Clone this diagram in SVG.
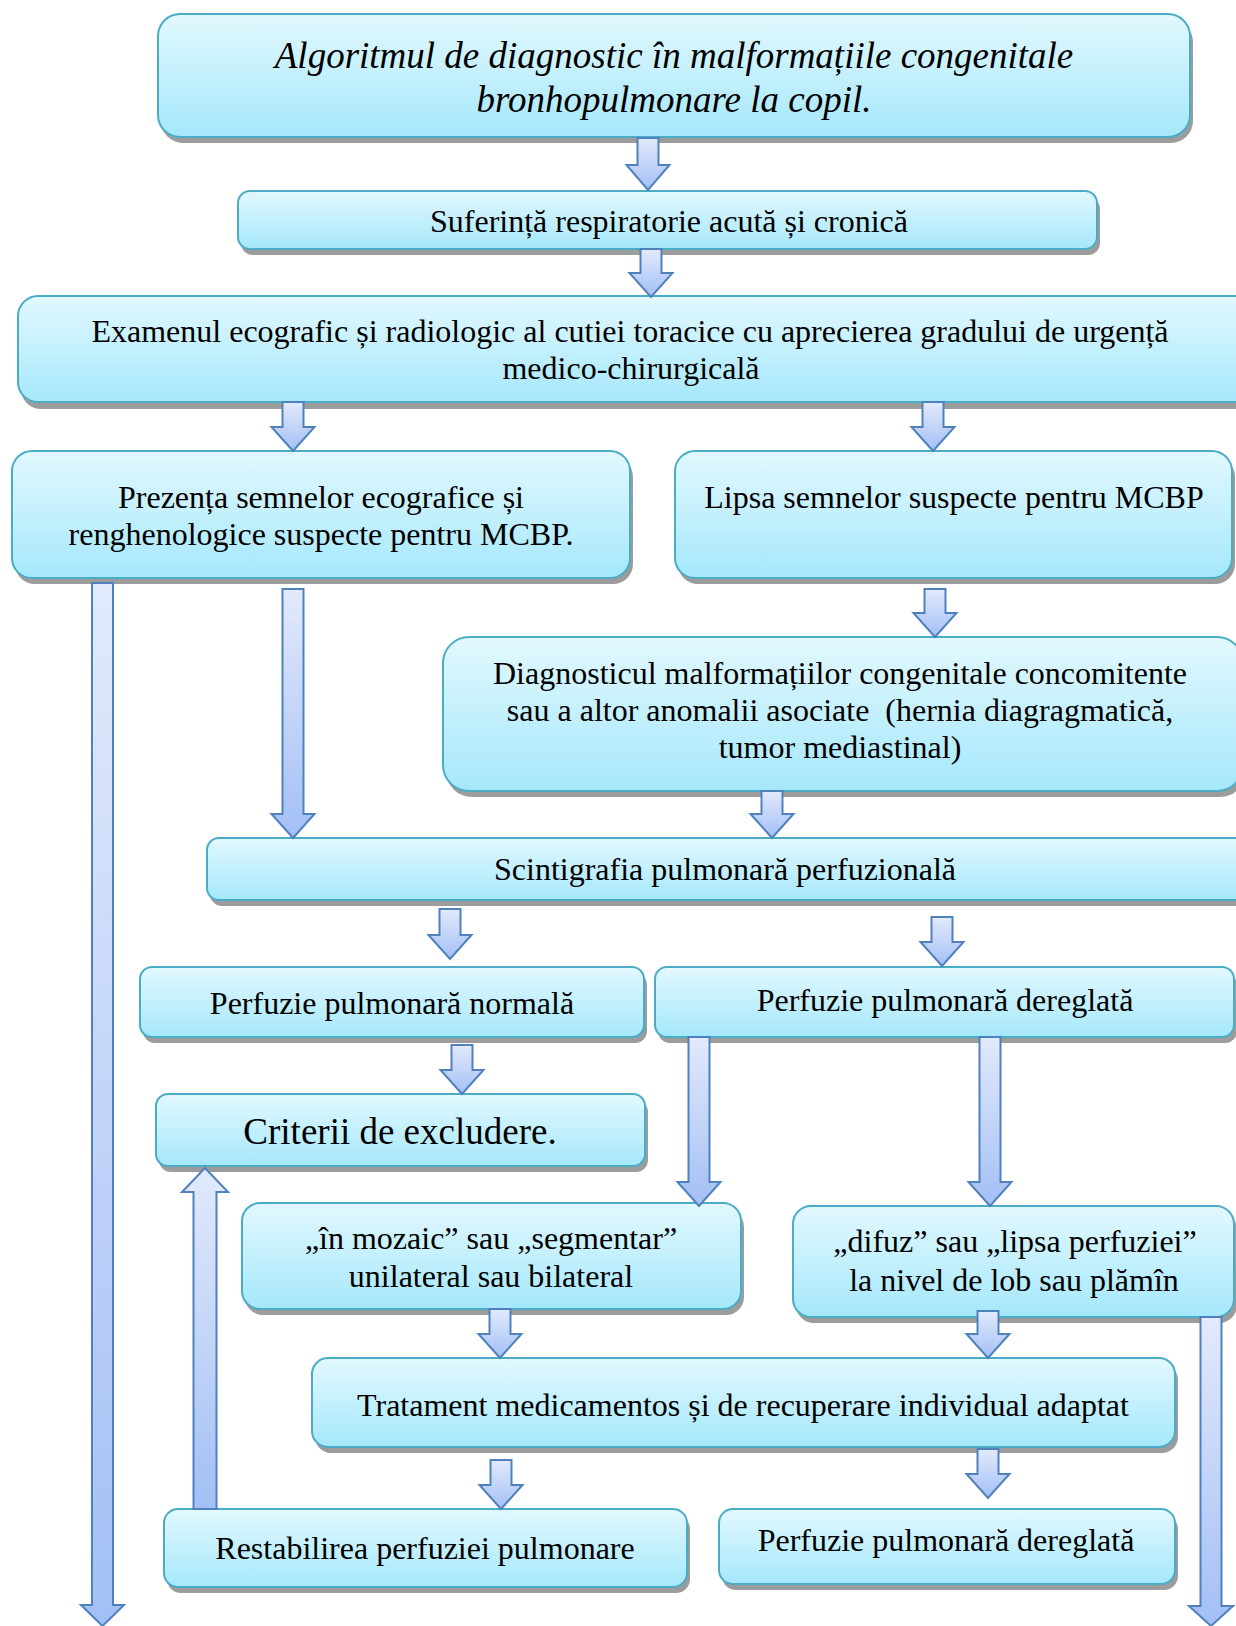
<svg xmlns="http://www.w3.org/2000/svg" width="1236" height="1626" viewBox="0 0 1236 1626">
<defs>
<linearGradient id="bx" x1="0" y1="0" x2="0" y2="1">
<stop offset="0" stop-color="#e2f8fe"/>
<stop offset="1" stop-color="#a5e8fb"/>
</linearGradient>
<linearGradient id="ar" x1="0" y1="0" x2="0" y2="1">
<stop offset="0" stop-color="#e2eafc"/>
<stop offset="1" stop-color="#a3bff5"/>
</linearGradient>
<style>
.sh{fill:#9c9c9c}
.bx{fill:url(#bx);stroke:#4bacc6;stroke-width:2}
.ar{fill:url(#ar);stroke:#4f81bd;stroke-width:2;stroke-linejoin:miter}
text{font-family:"Liberation Serif","Times New Roman",serif;font-size:32px;fill:#000;text-anchor:middle}
.ti{font-style:italic;font-size:37px}
.big{font-size:37px}
</style>
</defs>
<rect width="1236" height="1626" fill="#fff"/>
<g id="nodes">
<g id="n1"><rect class="sh" x="161" y="20" width="1032" height="123" rx="22"/><rect class="bx" x="158" y="14" width="1032" height="123" rx="22"/>
<text class="ti" x="674" y="68">Algoritmul de diagnostic în malformațiile congenitale</text>
<text class="ti" x="674" y="112">bronhopulmonare la copil.</text></g>
<g id="n2"><rect class="sh" x="241" y="197" width="859" height="58" rx="12"/><rect class="bx" x="238" y="191" width="859" height="58" rx="12"/>
<text x="669" y="232">Suferință respiratorie acută și cronică</text></g>
<g id="n3"><rect class="sh" x="21" y="302" width="1240" height="107" rx="20"/><rect class="bx" x="18" y="296" width="1240" height="106" rx="20"/>
<text x="630" y="342">Examenul ecografic și radiologic al cutiei toracice cu aprecierea gradului de urgență</text>
<text x="631" y="379">medico-chirurgicală</text></g>
<g id="n4"><rect class="sh" x="15" y="457" width="618" height="127" rx="20"/><rect class="bx" x="12" y="451" width="618" height="127" rx="20"/>
<text x="321" y="508">Prezența semnelor ecografice și</text>
<text x="321" y="545">renghenologice suspecte pentru MCBP.</text></g>
<g id="n5"><rect class="sh" x="678" y="457" width="557" height="127" rx="20"/><rect class="bx" x="675" y="451" width="557" height="127" rx="20"/>
<text x="954" y="508">Lipsa semnelor suspecte pentru MCBP</text></g>
<g id="n6"><rect class="sh" x="446" y="643" width="800" height="154" rx="26"/><rect class="bx" x="443" y="637" width="800" height="154" rx="26"/>
<text x="840" y="684">Diagnosticul malformațiilor congenitale concomitente</text>
<text x="840" y="721" xml:space="preserve">sau a altor anomalii asociate  (hernia diagragmatică,</text>
<text x="840" y="758">tumor mediastinal)</text></g>
<g id="n7"><rect class="sh" x="210" y="844" width="1040" height="62" rx="12"/><rect class="bx" x="207" y="838" width="1040" height="62" rx="12"/>
<text x="725" y="880">Scintigrafia pulmonară perfuzională</text></g>
<g id="n8"><rect class="sh" x="143" y="973" width="504" height="70" rx="12"/><rect class="bx" x="140" y="967" width="504" height="70" rx="12"/>
<text x="392" y="1014">Perfuzie pulmonară normală</text></g>
<g id="n9"><rect class="sh" x="658" y="973" width="579" height="70" rx="12"/><rect class="bx" x="655" y="967" width="579" height="70" rx="12"/>
<text x="945" y="1011">Perfuzie pulmonară dereglată</text></g>
<g id="n10"><rect class="sh" x="159" y="1100" width="489" height="72" rx="12"/><rect class="bx" x="156" y="1094" width="489" height="72" rx="12"/>
<text class="big" x="400" y="1144">Criterii de excludere.</text></g>
<g id="n11"><rect class="sh" x="245" y="1209" width="499" height="106" rx="18"/><rect class="bx" x="242" y="1203" width="499" height="106" rx="18"/>
<text x="491" y="1249">„în mozaic” sau „segmentar”</text>
<text x="491" y="1287">unilateral sau bilateral</text></g>
<g id="n12"><rect class="sh" x="796" y="1212" width="441" height="111" rx="18"/><rect class="bx" x="793" y="1206" width="441" height="111" rx="18"/>
<text x="1015" y="1252">„difuz” sau „lipsa perfuziei”</text>
<text x="1014" y="1291">la nivel de lob sau plămîn</text></g>
<g id="n13"><rect class="sh" x="315" y="1364" width="863" height="89" rx="16"/><rect class="bx" x="312" y="1358" width="863" height="89" rx="16"/>
<text x="743" y="1416">Tratament medicamentos și de recuperare individual adaptat</text></g>
<g id="n14"><rect class="sh" x="167" y="1515" width="523" height="78" rx="14"/><rect class="bx" x="164" y="1509" width="523" height="78" rx="14"/>
<text x="425" y="1559">Restabilirea perfuziei pulmonare</text></g>
<g id="n15"><rect class="sh" x="722" y="1515" width="456" height="75" rx="14"/><rect class="bx" x="719" y="1509" width="456" height="75" rx="14"/>
<text x="946" y="1551">Perfuzie pulmonară dereglată</text></g>
</g>
<g id="connectors">
<path class="ar" d="M637.5,138 H658.5 V165 H669.5 L648,190 L626.5,165 H637.5 Z"/>
<path class="ar" d="M640.5,249 H661.5 V273 H672.5 L651,297 L629.5,273 H640.5 Z"/>
<path class="ar" d="M282.5,402 H303.5 V427 H314.5 L293,451 L271.5,427 H282.5 Z"/>
<path class="ar" d="M922.5,402 H943.5 V427 H954.5 L933,451 L911.5,427 H922.5 Z"/>
<path class="ar" d="M92,583 H113 V1605 H124 L102.5,1626 L81,1605 H92 Z"/>
<path class="ar" d="M282.5,589 H303.5 V814 H314.5 L293,838 L271.5,814 H282.5 Z"/>
<path class="ar" d="M924.5,589 H945.5 V613 H956.5 L935,637 L913.5,613 H924.5 Z"/>
<path class="ar" d="M761.5,791 H782.5 V814 H793.5 L772,838 L750.5,814 H761.5 Z"/>
<path class="ar" d="M439.5,909 H460.5 V935 H471.5 L450,959 L428.5,935 H439.5 Z"/>
<path class="ar" d="M931.5,917 H952.5 V942 H963.5 L942,966 L920.5,942 H931.5 Z"/>
<path class="ar" d="M451.5,1045 H472.5 V1070 H483.5 L462,1094 L440.5,1070 H451.5 Z"/>
<path class="ar" d="M688.5,1037 H709.5 V1182 H720.5 L699,1206 L677.5,1182 H688.5 Z"/>
<path class="ar" d="M979.5,1037 H1000.5 V1182 H1011.5 L990,1206 L968.5,1182 H979.5 Z"/>
<path class="ar" d="M193.5,1509 H216.5 V1192 H228 L205,1168 L182,1192 H193.5 Z"/>
<path class="ar" d="M489.5,1309 H510.5 V1334 H521.5 L500,1358 L478.5,1334 H489.5 Z"/>
<path class="ar" d="M977.5,1311 H998.5 V1334 H1009.5 L988,1358 L966.5,1334 H977.5 Z"/>
<path class="ar" d="M1200.5,1317 H1221.5 V1606 H1233 L1211,1626 L1189,1606 H1200.5 Z"/>
<path class="ar" d="M490.5,1460 H511.5 V1485 H522.5 L501,1509 L479.5,1485 H490.5 Z"/>
<path class="ar" d="M977.5,1449 H998.5 V1474 H1009.5 L988,1498 L966.5,1474 H977.5 Z"/>
</g>
</svg>
